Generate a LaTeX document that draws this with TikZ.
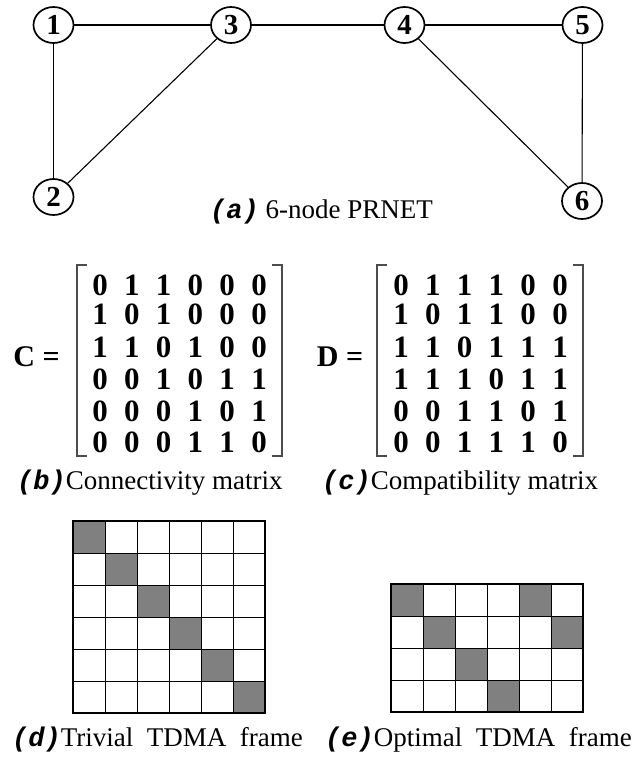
\documentclass[tikz,border=0pt]{standalone}
\usepackage{fontspec}
\setmainfont{Liberation Serif}
\newfontfamily\capfont{Liberation Mono}
\usetikzlibrary{shapes.geometric}

\begin{document}
\begin{tikzpicture}[
        x=1pt, y=-1pt,
        vtx/.style={
            draw,
            ellipse,
            line width=1.7pt,
            minimum width=40pt,
            minimum height=36pt,
            inner sep=0pt,
            font=\fontsize{29}{32}\selectfont\bfseries
        },
        edge/.style={line width=1.1pt},
        digit/.style={inner sep=0pt, font=\fontsize{31}{33}\selectfont\bfseries},
        eqlabel/.style={inner sep=0pt, font=\fontsize{30}{34}\selectfont\bfseries},
        bracket/.style={line width=1.1pt, black!70},
        caption/.style={anchor=west, inner sep=0pt, font=\fontsize{27}{30}\selectfont},
        slot/.style={line width=0.9pt},
        busy/.style={fill=black!50}
    ]
    \useasboundingbox (0,0) rectangle (635,762);

    % 网络拓扑(六个节点)
    \node[vtx] (n1) at (53.5,25) {1};
    \node[vtx] (n3) at (231,25) {3};
    \node[vtx] (n4) at (404.5,25) {4};
    \node[vtx] (n5) at (582.5,25) {5};
    \node[vtx] (n2) at (53.5,197) {2};
    \node[vtx] (n6) at (582,201) {6};
    \draw[edge] (n1) -- (n3);
    \draw[edge] (n3) -- (n4);
    \draw[edge] (n4) -- (n5);
    \draw[edge] (n1) -- (n2);
    \draw[edge] (n2) -- (n3);
    \draw[edge] (n4) -- (n6);
    \draw[edge] (n5) -- (n6);
    \node[caption] (capa) at (210,212) {{\capfont\bfseries\itshape (a)} 6-node PRNET};

    % 连接矩阵 C
    \node[eqlabel] (clabel) at (36.5,357) {C =};
    \draw[bracket] (87,265) -- (77,265) -- (77,456) -- (87,456);
    \draw[bracket] (272,265) -- (282,265) -- (282,456) -- (272,456);
    \foreach \y/\vals [count=\r] in {285/{0,1,1,0,0,0}, 314/{1,0,1,0,0,0}, 347/{1,1,0,1,0,0},
                                     379/{0,0,1,0,1,1}, 411/{0,0,0,1,0,1}, 442/{0,0,0,1,1,0}} {
        \foreach \v [count=\i] in \vals {
            \node[digit] (c-\r-\i) at ({100+31.8*(\i-1)},\y) {\v};
        }
    }
    \node[caption] (capb) at (17,483) {{\capfont\bfseries\itshape (b)}Connectivity matrix};

    % 相容矩阵 D
    \node[eqlabel] (dlabel) at (340,357) {D =};
    \draw[bracket] (387,265) -- (377,265) -- (377,456) -- (387,456);
    \draw[bracket] (573,265) -- (583,265) -- (583,456) -- (573,456);
    \foreach \y/\vals [count=\r] in {285/{0,1,1,1,0,0}, 314/{1,0,1,1,0,0}, 347/{1,1,0,1,1,1},
                                     379/{1,1,1,0,1,1}, 411/{0,0,1,1,0,1}, 442/{0,0,1,1,1,0}} {
        \foreach \v [count=\i] in \vals {
            \node[digit] (d-\r-\i) at ({401+31.8*(\i-1)},\y) {\v};
        }
    }
    \node[caption] (capc) at (322,483) {{\capfont\bfseries\itshape (c)}Compatibility matrix};

    % 平凡 TDMA 帧(6x6)
    \foreach \k in {0,...,5}
        \fill[busy] ({73+32*\k},{521+32*\k}) rectangle +(32,32);
    \foreach \k in {1,...,5} {
        \draw[slot] ({73+32*\k},521) -- ++(0,192);
        \draw[slot] (73,{521+32*\k}) -- ++(192,0);
    }
    \draw[line width=1.2pt] (73,521) rectangle (265,713);
    \node[caption] (capd) at (12,740) {{\capfont\bfseries\itshape (d)}Trivial~~TDMA~~frame};

    % 最优 TDMA 帧(6x4)
    \foreach \cx/\cy in {0/0, 4/0, 1/1, 5/1, 2/2, 3/3}
        \fill[busy] ({391+32*\cx},{584+32*\cy}) rectangle +(32,32);
    \foreach \k in {1,...,5}
        \draw[slot] ({391+32*\k},584) -- ++(0,128);
    \foreach \k in {1,...,3}
        \draw[slot] (391,{584+32*\k}) -- ++(192,0);
    \draw[line width=1.2pt] (391,584) rectangle (583,712);
    \node[caption] (cape) at (325,740) {{\capfont\bfseries\itshape (e)}Optimal~~TDMA~~frame};
\end{tikzpicture}
\end{document}
